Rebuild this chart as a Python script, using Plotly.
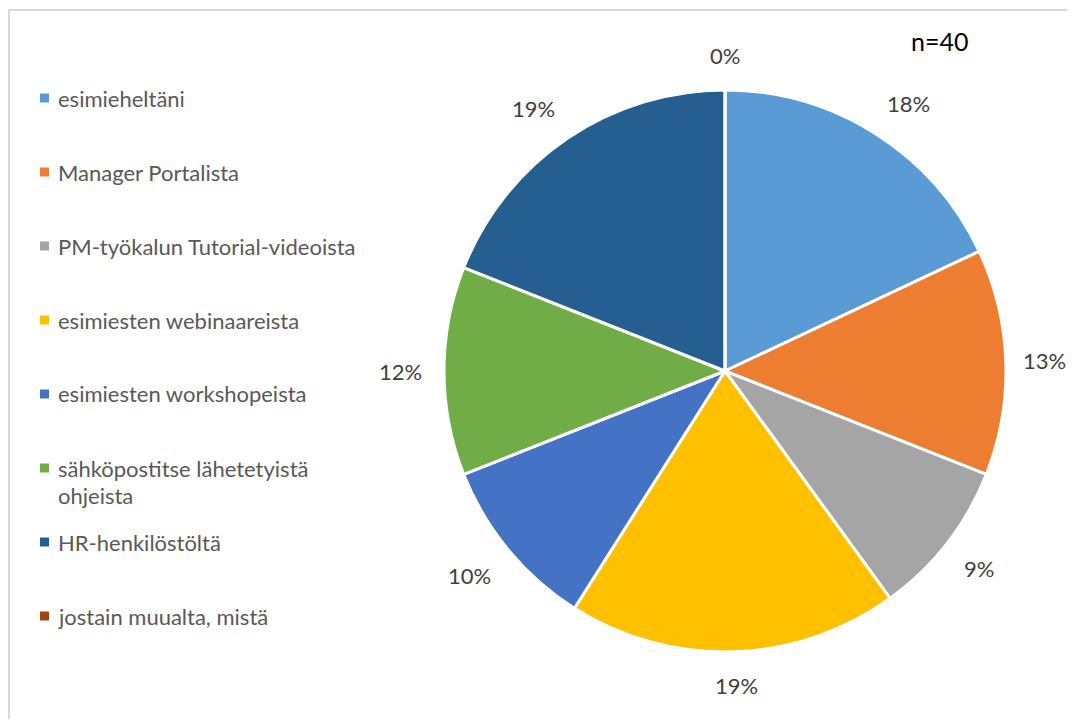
import math
import plotly.graph_objects as go

# ---- data ----
categories = [
    "esimieheltäni",
    "Manager Portalista",
    "PM-työkalun Tutorial-videoista",
    "esimiesten webinaareista",
    "esimiesten workshopeista",
    "sähköpostitse lähetetyistä\nohjeista",
    "HR-henkilöstöltä",
    "jostain muualta, mistä",
]
values = [18, 13, 9, 19, 10, 12, 19, 0]
colors = ["#5B9BD5", "#ED7D31", "#A5A5A5", "#FFC000", "#4472C4", "#70AD47", "#255E91", "#9E480E"]
note = "n=40"

OFF = 8                              # page body margin in the browser
W, H = 1075 - 2 * OFF, 727 - 2 * OFF  # figure size that fits the window without scrollbars
FONT = "Lato"
cx, cy, R = 725 - OFF, 371 - OFF, 281  # pie centre / radius in px (figure coords)


def px_x(x):
    return (x - OFF) / W


def px_y(y):
    return 1 - (y - OFF) / H


fig = go.Figure()
fig.add_trace(go.Pie(
    labels=[c.replace("\n", " ") for c in categories],
    values=values,
    marker=dict(colors=colors, line=dict(color="white", width=3)),
    sort=False,
    direction="clockwise",
    rotation=0,
    textinfo="none",
    hoverinfo="label+percent",
    showlegend=False,
    domain=dict(x=[(cx - R) / W, (cx + R) / W], y=[(H - cy - R) / H, (H - cy + R) / H]),
))

annotations = []
shapes = []


def clip(t):
    return max(-1.0, min(1.0, t))


# percentage labels outside slices (best-fit style)
total = sum(values)
cum = 0
Ra = R + 23
for v in values:
    mid = (cum + v / 2) / total * 2 * math.pi
    cum += v
    txt = f"{round(v / total * 100)}%"
    w = 14 * len(txt)
    h = 22
    s, c = math.sin(mid), math.cos(mid)
    px = cx + Ra * s + (w / 2) * clip(2.5 * s)
    py = cy - (Ra * c + (h / 2) * clip(2.5 * c))
    px = min(px, W - w / 2 - 2)
    annotations.append(dict(
        x=px / W, y=1 - py / H, xref="paper", yref="paper",
        text=txt, showarrow=False, xanchor="center", yanchor="middle",
        font=dict(family=FONT, size=22, color="#404040"),
    ))

# legend built manually
for i, (cat, col) in enumerate(zip(categories, colors)):
    yc = 98 + 74 * i
    shapes.append(dict(type="rect", xref="paper", yref="paper",
                       x0=px_x(40), x1=px_x(49), y0=px_y(yc + 4.5), y1=px_y(yc - 4.5),
                       fillcolor=col, line=dict(width=0)))
    for j, line in enumerate(cat.split("\n")):
        annotations.append(dict(
            x=px_x(56), y=px_y(yc + 27 * j), xref="paper", yref="paper",
            text=line, showarrow=False, xanchor="left", yanchor="middle",
            font=dict(family=FONT, size=22, color="#595959"),
        ))

annotations.append(dict(
    x=px_x(939), y=px_y(41), xref="paper", yref="paper",
    text=note, showarrow=False, xanchor="center", yanchor="middle",
    font=dict(family=FONT, size=25, color="#000000"),
))

# chart border (light gray): only top and left edges visible in the frame
border = dict(color="#D9D9D9", width=2)
shapes.append(dict(type="line", xref="paper", yref="paper",
                   x0=px_x(8), x1=1.0, y0=px_y(10), y1=px_y(10), line=border))
shapes.append(dict(type="line", xref="paper", yref="paper",
                   x0=px_x(9), x1=px_x(9), y0=px_y(9), y1=0.0, line=border))

fig.update_layout(
    width=W, height=H,
    margin=dict(l=0, r=0, t=0, b=0),
    paper_bgcolor="white", plot_bgcolor="white",
    annotations=annotations, shapes=shapes,
    font=dict(family=FONT),
)

fig.write_html("out.html")
